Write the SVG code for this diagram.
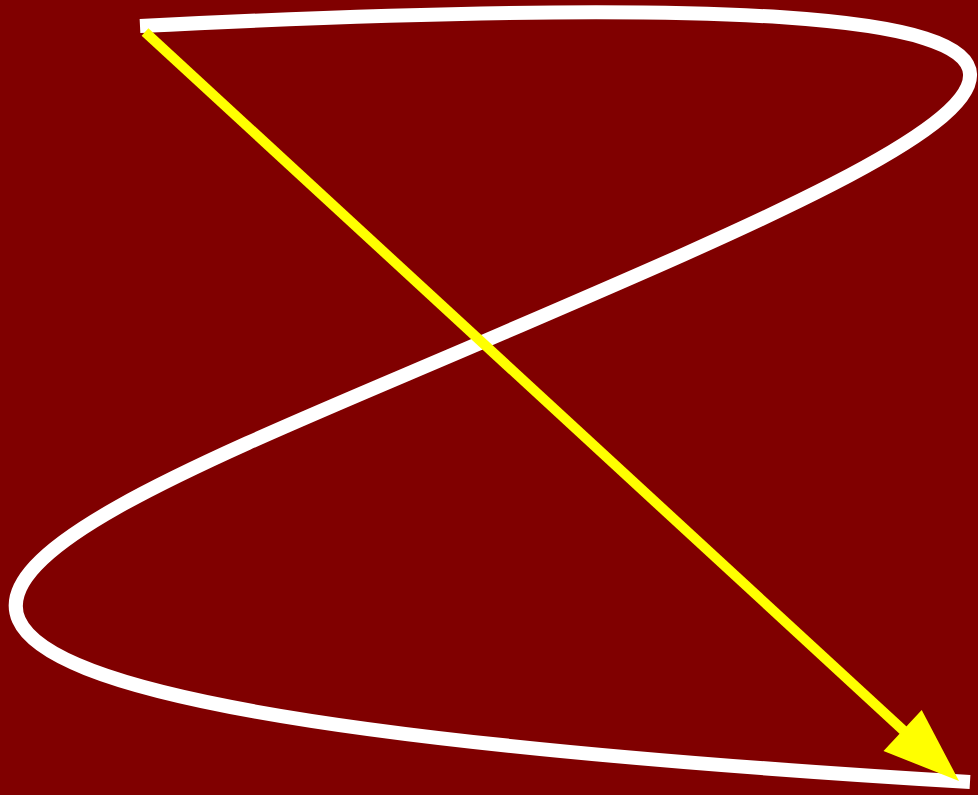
<svg xmlns="http://www.w3.org/2000/svg" width="978" height="795" viewBox="0 0 978 795">
<style>
.curve{fill:none;stroke:#ffffff;stroke-width:14}
.arrow{fill:none;stroke:#ffff00;stroke-width:10}
.head{fill:#ffff00}
</style>
<rect x="0" y="0" width="978" height="795" fill="#800000"/>
<g id="connectors">
<path id="curve" class="curve" d="M140,26 C1377,-36 1003,118 480,343 C-5,551 -436,698 970,782"/>
<g id="arrow">
<line class="arrow" x1="145" y1="32" x2="904" y2="731"/>
<polygon class="head" points="921.7,710 959,781 883.5,751"/>
</g>
</g>
</svg>
